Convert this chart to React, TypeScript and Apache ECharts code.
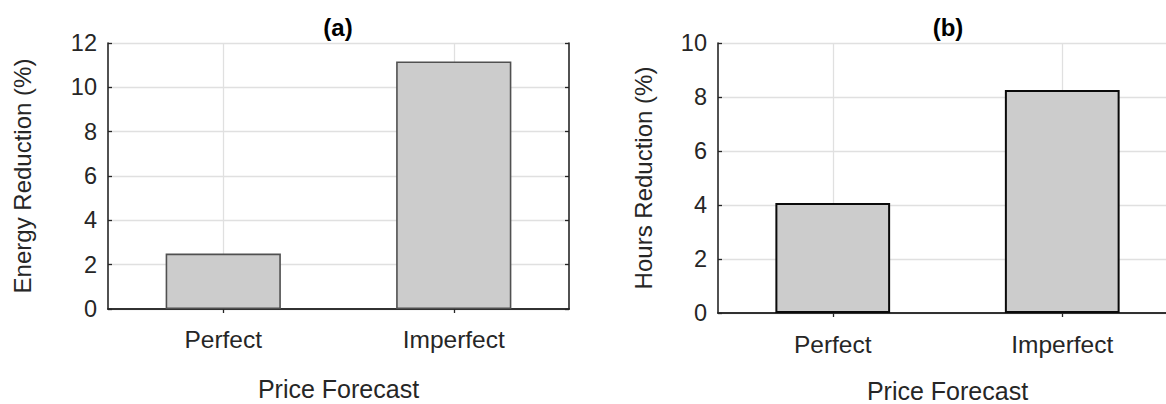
import React, { useEffect, useRef } from "react";
import * as echarts from "echarts";

// Categories shared by both panels
const forecastTypes = ["Perfect", "Imperfect"];

// Panel (a): energy reduction in percent
const energyReduction = [2.5, 11.17];
const energyTicks = { min: 0, max: 12, interval: 2 };

// Panel (b): hours reduction in percent
const hoursReduction = [4.07, 8.26];
const hoursTicks = { min: 0, max: 10, interval: 2 };

const TEXT = "#262626";
const FONT = "Liberation Sans, Arial, sans-serif";
const GRIDLINE = "#e0e0e0";
const BAR_FILL = "#cccccc";

function bottomAxis(gridIndex: number, labelMargin: number, nameGap: number) {
  return {
    type: "category",
    gridIndex,
    position: "bottom",
    data: forecastTypes,
    boundaryGap: true,
    name: "Price Forecast",
    nameLocation: "middle",
    nameGap,
    nameTextStyle: { color: TEXT, fontSize: 25, fontFamily: FONT },
    axisLine: { show: true, lineStyle: { color: TEXT, width: 1.6 } },
    axisTick: { show: true, inside: true, alignWithLabel: true, length: 4, lineStyle: { color: TEXT, width: 1.3 } },
    axisLabel: { color: TEXT, fontSize: 24.5, fontFamily: FONT, margin: labelMargin },
    splitLine: { show: true, alignWithLabel: true, lineStyle: { color: GRIDLINE, width: 1.3 } },
  };
}

function topAxis(gridIndex: number) {
  return {
    type: "category",
    gridIndex,
    position: "top",
    data: forecastTypes,
    boundaryGap: true,
    axisLine: { show: true, lineStyle: { color: TEXT, width: 1.6 } },
    axisTick: { show: true, inside: true, alignWithLabel: true, length: 4, lineStyle: { color: TEXT, width: 1.3 } },
    axisLabel: { show: false },
    splitLine: { show: false },
  };
}

function leftAxis(gridIndex: number, ticks: { min: number; max: number; interval: number }, name: string, nameGap: number) {
  return {
    type: "value",
    gridIndex,
    position: "left",
    ...ticks,
    name,
    nameLocation: "middle",
    nameGap,
    nameRotate: 90,
    nameTextStyle: { color: TEXT, fontSize: 24, fontFamily: FONT },
    axisLine: { show: true, lineStyle: { color: TEXT, width: 1.6 } },
    axisTick: { show: true, inside: true, length: 4, lineStyle: { color: TEXT, width: 1.3 } },
    axisLabel: { color: TEXT, fontSize: 23.5, fontFamily: FONT, margin: 11, padding: [4, 0, 0, 0] },
    splitLine: { show: true, lineStyle: { color: GRIDLINE, width: 1.3 } },
  };
}

function rightAxis(gridIndex: number, ticks: { min: number; max: number; interval: number }) {
  return {
    type: "value",
    gridIndex,
    position: "right",
    ...ticks,
    axisLine: { show: true, lineStyle: { color: TEXT, width: 1.6 } },
    axisTick: { show: true, inside: true, length: 4, lineStyle: { color: TEXT, width: 1.3 } },
    axisLabel: { show: false },
    splitLine: { show: false },
  };
}

export default function App() {
  const ref = useRef<HTMLDivElement>(null);

  useEffect(() => {
    if (!ref.current) return;
    const chart = echarts.init(ref.current, null, { renderer: "svg" });
    chart.setOption({
      animation: false,
      backgroundColor: "#ffffff",
      textStyle: { fontFamily: FONT },
      grid: [
        { left: 108, top: 43, width: 461, height: 266, outerBoundsMode: "none" },
        { left: 718, top: 43, width: 459, height: 270, outerBoundsMode: "none" },
      ],
      xAxis: [bottomAxis(0, 18, 67), topAxis(0), bottomAxis(1, 19, 65), topAxis(1)],
      yAxis: [
        leftAxis(0, energyTicks, "Energy Reduction (%)", 74),
        rightAxis(0, energyTicks),
        leftAxis(1, hoursTicks, "Hours Reduction (%)", 63),
        rightAxis(1, hoursTicks),
      ],
      graphic: [
        {
          type: "text",
          x: 338,
          y: 27,
          style: { text: "(a)", fill: "#000", font: `bold 24px ${FONT}`, textAlign: "center", textVerticalAlign: "middle" },
        },
        {
          type: "text",
          x: 948,
          y: 27,
          style: { text: "(b)", fill: "#000", font: `bold 24px ${FONT}`, textAlign: "center", textVerticalAlign: "middle" },
        },
      ],
      series: [
        {
          type: "bar",
          xAxisIndex: 0,
          yAxisIndex: 0,
          data: energyReduction,
          barWidth: "50%",
          itemStyle: { color: BAR_FILL, borderColor: "#505050", borderWidth: 1.6 },
          z: 3,
        },
        {
          type: "bar",
          xAxisIndex: 2,
          yAxisIndex: 2,
          data: hoursReduction,
          barWidth: "50%",
          itemStyle: { color: BAR_FILL, borderColor: "#0a0a0a", borderWidth: 2 },
          z: 3,
        },
      ],
    });
    return () => chart.dispose();
  }, []);

  // The chart canvas is a little wider than the visible frame so that the
  // right panel's plot box can run past the right edge.
  return (
    <div style={{ position: "fixed", left: 0, top: 0, width: 1166, height: 404, overflow: "hidden", background: "#fff" }}>
      <div ref={ref} style={{ width: 1200, height: 404 }} />
    </div>
  );
}
